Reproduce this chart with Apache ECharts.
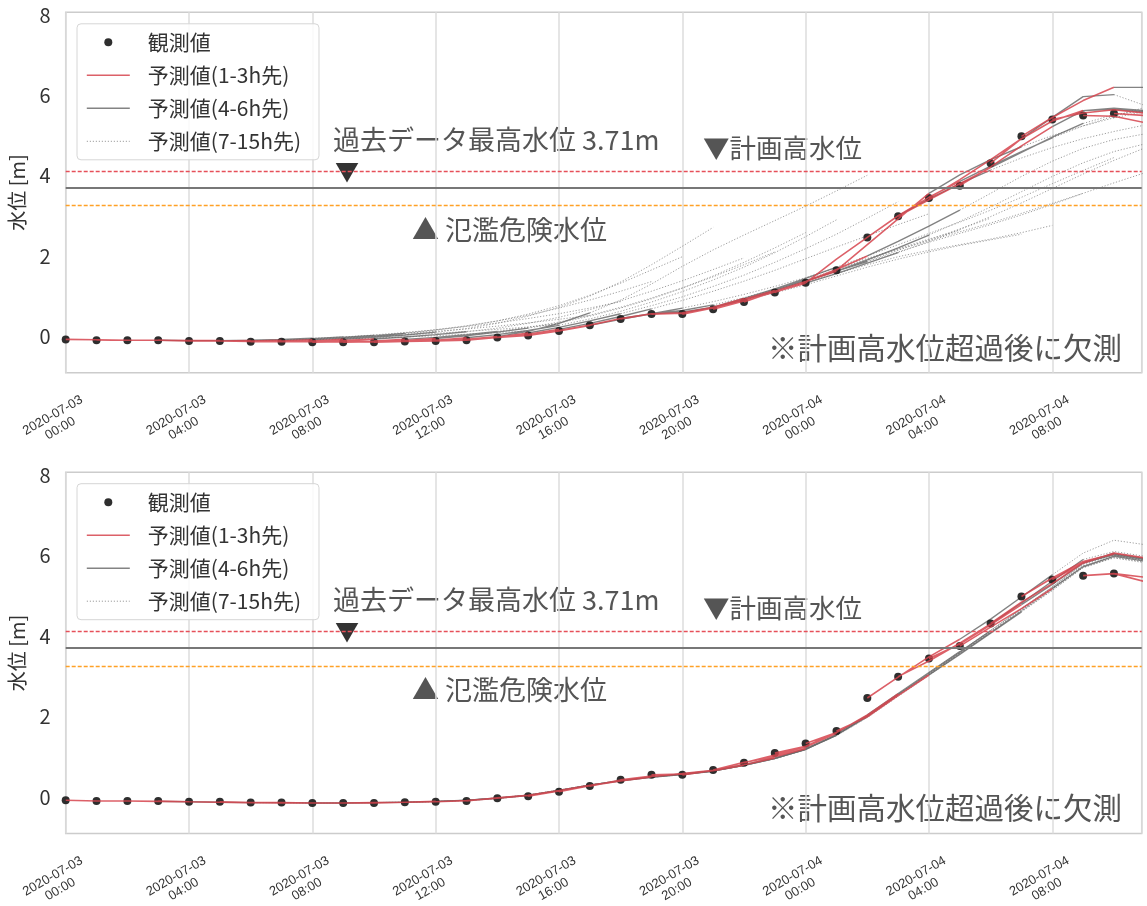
<!DOCTYPE html>
<html><head><meta charset="utf-8">
<script src="https://cdn.jsdelivr.net/npm/echarts@6/dist/echarts.min.js"></script>
<style>html,body{margin:0;padding:0;background:#fff;}#c{width:1147px;height:906px;}</style>
</head><body><div id="c"></div>
<script>
// ---- data ----
const xTickHours = [0, 4, 8, 12, 16, 20, 24, 28, 32];
const xTickLabels = ['2020-07-03\n00:00','2020-07-03\n04:00','2020-07-03\n08:00','2020-07-03\n12:00','2020-07-03\n16:00','2020-07-03\n20:00','2020-07-04\n00:00','2020-07-04\n04:00','2020-07-04\n08:00'];
const yTickValues = [0, 2, 4, 6, 8];
// observed water level, hourly from 2020-07-03 00:00
const obsLevel = [-0.08,-0.10,-0.10,-0.10,-0.12,-0.12,-0.14,-0.14,-0.15,-0.15,-0.15,-0.13,-0.12,-0.10,-0.03,0.02,0.13,0.27,0.43,0.55,0.55,0.67,0.85,1.09,1.33,1.64,2.46,2.99,3.44,3.75,4.31,4.98,5.40,5.50,5.55];
const planHighLevel = 4.12;   // 計画高水位
const pastMaxLevel = 3.71;    // 過去データ最高水位
const dangerLevel = 3.25;     // 氾濫危険水位
// forecasts: row = issue hour, values = lead 1..15 h (visible part)
const topRuns = [
[-0.09,-0.10,-0.10,-0.11,-0.11,-0.11,-0.10,-0.09,-0.07,-0.05,-0.02,0.01,0.05,0.09,0.13],
[-0.10,-0.10,-0.11,-0.11,-0.10,-0.09,-0.07,-0.04,-0.01,0.03,0.07,0.12,0.17,0.23,0.30],
[-0.10,-0.11,-0.11,-0.10,-0.08,-0.05,-0.02,0.02,0.07,0.12,0.18,0.25,0.33,0.42,0.52],
[-0.12,-0.12,-0.11,-0.09,-0.06,-0.02,0.03,0.09,0.16,0.24,0.33,0.44,0.56,0.70,0.86],
[-0.12,-0.12,-0.10,-0.07,-0.03,0.02,0.08,0.16,0.26,0.38,0.52,0.70,0.90,1.12,1.36],
[-0.13,-0.12,-0.09,-0.05,0.00,0.07,0.15,0.25,0.38,0.55,0.76,1.02,1.32,1.65,1.98],
[-0.14,-0.12,-0.08,-0.03,0.03,0.10,0.19,0.32,0.50,0.72,1.00,1.35,1.78,2.24,2.71],
[-0.14,-0.11,-0.07,-0.02,0.04,0.11,0.20,0.32,0.47,0.66,0.88,1.12,1.38,1.66,1.95],
[-0.14,-0.12,-0.08,-0.03,0.04,0.12,0.22,0.35,0.52,0.72,0.95,1.20,1.48,1.78,2.10],
[-0.14,-0.11,-0.06,0.01,0.10,0.20,0.33,0.50,0.70,0.93,1.20,1.50,1.84,2.20,2.58],
[-0.13,-0.10,-0.04,0.04,0.14,0.27,0.43,0.62,0.85,1.11,1.40,1.72,2.08,2.48,2.90],
[-0.12,-0.08,-0.01,0.12,0.32,0.58,0.90,1.30,1.74,2.15,2.52,2.88,3.24,3.62,4.01],
[-0.10,-0.03,0.08,0.22,0.38,0.56,0.76,0.98,1.24,1.52,1.84,2.18,2.54,2.94,3.35],
[-0.03,0.05,0.17,0.32,0.49,0.68,0.89,1.12,1.37,1.64,1.93,2.22,2.50,2.78,3.05],
[0.02,0.13,0.27,0.42,0.56,0.70,0.86,1.04,1.24,1.46,1.70,1.94,2.18,2.42,2.64],
[0.14,0.28,0.44,0.56,0.64,0.78,0.96,1.16,1.38,1.62,1.88,2.14,2.40,2.67,2.94],
[0.28,0.44,0.56,0.60,0.72,0.90,1.08,1.28,1.50,1.72,1.92,2.10,2.26,2.40,2.54],
[0.44,0.56,0.58,0.72,0.92,1.12,1.34,1.56,1.78,1.98,2.14,2.28,2.42,2.58,2.76],
[0.56,0.58,0.72,0.94,1.16,1.40,1.66,1.92,2.16,2.38,2.60,2.82,3.06,3.31,3.56],
[0.57,0.72,0.94,1.18,1.44,1.72,2.00,2.28,2.56,2.84,3.14,3.46,3.80,4.13,4.45],
[0.70,0.92,1.14,1.38,1.62,1.86,2.10,2.34,2.56,2.78,3.02,3.28,3.56,3.82,4.07],
[0.88,1.10,1.32,1.56,1.82,2.08,2.36,2.66,2.98,3.32,3.68,4.04,4.38,4.69],
[1.12,1.36,1.62,1.90,2.20,2.52,2.86,3.22,3.60,3.98,4.32,4.60,4.79],
[1.36,1.66,2.00,2.36,2.74,3.14,3.56,3.98,4.36,4.68,4.90,5.04],
[1.92,2.46,3.00,3.42,3.80,4.14,4.44,4.70,4.92,5.10,5.26],
[2.28,2.92,3.56,4.02,4.40,4.72,5.00,5.24,5.44,5.60],
[3.00,3.46,3.86,4.24,4.60,4.94,5.24,5.48,5.70],
[3.40,3.80,4.20,4.58,4.96,5.30,5.52,5.62],
[3.90,4.40,4.92,5.45,5.97,6.02,5.75],
[4.22,4.74,5.22,5.62,5.68,5.62],
[4.92,5.36,5.62,5.65,5.58],
[5.45,5.87,6.20,6.20],
[5.56,5.64,5.56],
[5.48,5.32],
[5.50]
];
const bottomRuns = [
[-0.10,-0.10,-0.11,-0.12,-0.13,-0.14,-0.14,-0.15,-0.15,-0.14,-0.13,-0.12,-0.09,-0.04,0.03],
[-0.10,-0.11,-0.12,-0.13,-0.14,-0.14,-0.15,-0.15,-0.14,-0.13,-0.11,-0.08,-0.03,0.04,0.15],
[-0.11,-0.12,-0.13,-0.14,-0.14,-0.15,-0.15,-0.14,-0.13,-0.11,-0.08,-0.03,0.04,0.15,0.28],
[-0.12,-0.13,-0.14,-0.14,-0.15,-0.15,-0.14,-0.13,-0.11,-0.08,-0.02,0.05,0.16,0.29,0.40],
[-0.13,-0.14,-0.14,-0.15,-0.15,-0.14,-0.13,-0.11,-0.08,-0.02,0.05,0.17,0.30,0.41,0.50],
[-0.14,-0.14,-0.15,-0.15,-0.14,-0.13,-0.11,-0.08,-0.02,0.05,0.17,0.30,0.41,0.50,0.57],
[-0.15,-0.15,-0.15,-0.14,-0.13,-0.11,-0.08,-0.03,0.04,0.16,0.30,0.41,0.50,0.57,0.65],
[-0.15,-0.15,-0.14,-0.13,-0.11,-0.08,-0.03,0.05,0.17,0.30,0.41,0.50,0.57,0.65,0.79],
[-0.15,-0.14,-0.13,-0.11,-0.08,-0.03,0.05,0.17,0.30,0.41,0.50,0.57,0.65,0.79,0.96],
[-0.14,-0.13,-0.11,-0.08,-0.03,0.04,0.16,0.29,0.41,0.50,0.56,0.64,0.78,0.95,1.18],
[-0.13,-0.12,-0.09,-0.03,0.04,0.16,0.29,0.40,0.49,0.56,0.64,0.78,0.95,1.18,1.53],
[-0.12,-0.09,-0.03,0.04,0.16,0.29,0.40,0.49,0.56,0.64,0.78,0.95,1.18,1.54,2.00],
[-0.09,-0.03,0.04,0.16,0.29,0.40,0.49,0.56,0.64,0.78,0.95,1.18,1.54,2.00,2.54],
[-0.02,0.04,0.16,0.29,0.40,0.49,0.56,0.64,0.78,0.95,1.18,1.54,2.00,2.54,3.05],
[0.04,0.16,0.29,0.40,0.49,0.56,0.64,0.78,0.95,1.18,1.54,2.00,2.54,3.05,3.57],
[0.15,0.29,0.40,0.49,0.56,0.64,0.78,0.95,1.18,1.54,2.00,2.54,3.05,3.57,4.10],
[0.28,0.40,0.50,0.57,0.65,0.79,0.96,1.19,1.52,1.97,2.50,3.02,3.55,4.08,4.62],
[0.42,0.51,0.57,0.65,0.79,0.96,1.19,1.53,1.98,2.52,3.04,3.56,4.09,4.63,5.16],
[0.52,0.58,0.66,0.80,0.97,1.20,1.55,2.01,2.55,3.06,3.58,4.11,4.65,5.19,5.76],
[0.57,0.65,0.79,0.96,1.18,1.53,1.99,2.53,3.04,3.56,4.09,4.63,5.17,5.74,5.98],
[0.66,0.80,0.97,1.19,1.54,2.00,2.53,3.04,3.56,4.08,4.61,5.14,5.70,5.95,5.84],
[0.86,1.00,1.20,1.55,2.01,2.55,3.06,3.58,4.10,4.63,5.17,5.74,5.99,5.88],
[1.04,1.24,1.58,2.03,2.57,3.09,3.61,4.14,4.68,5.22,5.80,6.04,5.92],
[1.26,1.60,2.04,2.57,3.09,3.61,4.14,4.68,5.22,5.80,6.04,5.92],
[1.60,2.03,2.56,3.08,3.60,4.13,4.67,5.21,5.78,6.02,5.90],
[1.99,2.52,3.03,3.54,4.07,4.60,5.13,5.70,5.94,5.82],
[2.98,3.48,3.92,4.42,4.97,5.52,6.06,6.38,6.27],
[3.38,3.82,4.30,4.82,5.36,5.90,6.10,5.98],
[3.80,4.28,4.78,5.28,5.82,6.06,5.94],
[4.22,4.68,5.18,5.72,5.98,5.86],
[4.84,5.30,5.82,6.02,5.90],
[5.44,5.85,6.04,5.92],
[5.81,6.06,5.94],
[5.55,5.35],
[5.46]
];
const seriesNames = ['観測値', '予測値(1-3h先)', '予測値(4-6h先)', '予測値(7-15h先)'];

// ---- build ----
const FONT = "'Noto Sans CJK JP','Noto Sans',sans-serif";
function segments(runs, obs, fromLead, toLead) {
  const out = [];
  runs.forEach((vals, t0) => {
    const pts = [[t0, obs[t0]]].concat(vals.map((v, i) => [t0 + i + 1, v]));
    const seg = pts.slice(fromLead, toLead + 1);
    if (seg.length >= 2) { seg.forEach(p => out.push(p)); out.push([seg[seg.length - 1][0], '-']); }
  });
  return out;
}
const obsPts = obsLevel.map((v, i) => [i, v]);
const styles = {
  red: { color: 'rgba(214,68,78,0.85)', width: 1.6, type: 'solid' },
  gray: { color: 'rgba(100,100,100,0.8)', width: 1.4, type: 'solid' },
  dot: { color: 'rgba(125,125,125,0.75)', width: 1, type: [1.2, 1.8] }
};
function panelSeries(idx, runs) {
  const mk = (name, data, st, z) => ({
    name, type: 'line', xAxisIndex: idx, yAxisIndex: idx, data, symbol: 'none', showSymbol: false,
    connectNulls: false, lineStyle: st, itemStyle: { color: st.color }, z, silent: true, animation: false
  });
  return [
    {
      name: seriesNames[0], type: 'scatter', xAxisIndex: idx, yAxisIndex: idx, data: obsPts,
      symbolSize: 8, itemStyle: { color: '#1c1c1c', opacity: 0.92 }, z: 3, silent: true,
      markLine: {
        silent: true, symbol: ['none', 'none'], label: { show: false }, animation: false,
        data: [
          { yAxis: planHighLevel, lineStyle: { color: '#e6505a', type: [4, 2], width: 1.3 } },
          { yAxis: pastMaxLevel, lineStyle: { color: '#777777', type: 'solid', width: 2 } },
          { yAxis: dangerLevel, lineStyle: { color: '#ffa126', type: [4, 2], width: 1.3 } }
        ]
      }
    },
    mk(seriesNames[3], segments(runs, obsLevel, 6, 15), styles.dot, 1),
    mk(seriesNames[2], segments(runs, obsLevel, 3, 6), styles.gray, 2),
    mk(seriesNames[1], segments(runs, obsLevel, 0, 3), styles.red, 4)
  ];
}
const gridTops = [12.3, 472.2];
const gridH = [360.4, 361.4];
function axisX(i) {
  return {
    type: 'value', gridIndex: i, min: 0, max: 34.9, interval: 4,
    axisLine: { show: false }, axisTick: { show: false },
    splitLine: { show: true, lineStyle: { color: '#dcdcdc', width: 1.5 } },
    axisLabel: {
      rotate: 30, align: 'center', verticalAlign: 'middle', margin: 44, padding: [0, 21, 0, 0],
      fontSize: 13, color: '#333', fontFamily: "'Liberation Sans',Arial,sans-serif", lineHeight: 15,
      hideOverlap: false, interval: 0,
      formatter: v => { const k = xTickHours.indexOf(Math.round(v * 100) / 100); return k >= 0 ? xTickLabels[k] : ''; }
    }
  };
}
function axisY(i) {
  return {
    type: 'value', gridIndex: i, min: -0.91, max: 8.07,
    name: '水位 [m]', nameLocation: 'middle', nameGap: 38, nameRotate: 90,
    nameTextStyle: { fontSize: 20, color: '#333', fontFamily: FONT },
    axisLine: { show: false }, axisTick: { show: false }, splitLine: { show: false },
    axisLabel: { customValues: yTickValues, fontSize: 20, color: '#333', margin: 15, fontFamily: FONT }
  };
}
const hidden = { color: 'rgba(0,0,0,0)', borderColor: 'rgba(0,0,0,0)', borderWidth: 0 };
function legend(i) {
  return {
    orient: 'vertical', left: 77, top: gridTops[i] + 11.5, itemWidth: 43, itemHeight: 8, itemGap: 12,
    padding: [8, 18, 8, 9], backgroundColor: 'rgba(255,255,255,0.85)', borderColor: '#d6d6d6', borderWidth: 1, borderRadius: 4,
    textStyle: { fontSize: 21, color: '#333', fontFamily: FONT, lineHeight: 21, padding: [0, 0, 0, 13] },
    selectedMode: false,
    data: [
      { name: seriesNames[0], icon: 'circle' },
      { name: seriesNames[1], itemStyle: hidden, lineStyle: styles.red },
      { name: seriesNames[2], itemStyle: hidden, lineStyle: styles.gray },
      { name: seriesNames[3], itemStyle: hidden, lineStyle: styles.dot }
    ]
  };
}
function txt(x, y, text, size, color) {
  return { type: 'text', x, y, silent: true, style: { text, fill: color || '#555', fontSize: size, fontFamily: FONT, align: 'left', verticalAlign: 'middle' } };
}
const graphics = [];
[0, 460].forEach(dy => {
  graphics.push(txt(333, 140 + dy, '過去データ最高水位 3.71m', 27));
  graphics.push(txt(335, 172 + dy, '▼', 24, '#333'));
  graphics.push(txt(703, 148 + dy, '▼計画高水位', 26.5));
  graphics.push(txt(412, 230 + dy, '▲ 氾濫危険水位', 27));
  graphics.push(txt(768, 348 + dy, '※計画高水位超過後に欠測', 29.5));
});
const chart = echarts.init(document.getElementById('c'), null, { renderer: 'canvas' });
chart.setOption({
  animation: false,
  backgroundColor: '#fff',
  grid: [0, 1].map(i => ({ left: 65.7, width: 1076, top: gridTops[i], height: gridH[i], show: true, borderColor: '#cccccc', borderWidth: 1.5, backgroundColor: '#fff', outerBoundsMode: 'none' })),
  xAxis: [axisX(0), axisX(1)],
  yAxis: [axisY(0), axisY(1)],
  legend: [legend(0), legend(1)],
  series: panelSeries(0, topRuns).concat(panelSeries(1, bottomRuns)),
  graphic: { elements: graphics }
});
</script></body></html>
